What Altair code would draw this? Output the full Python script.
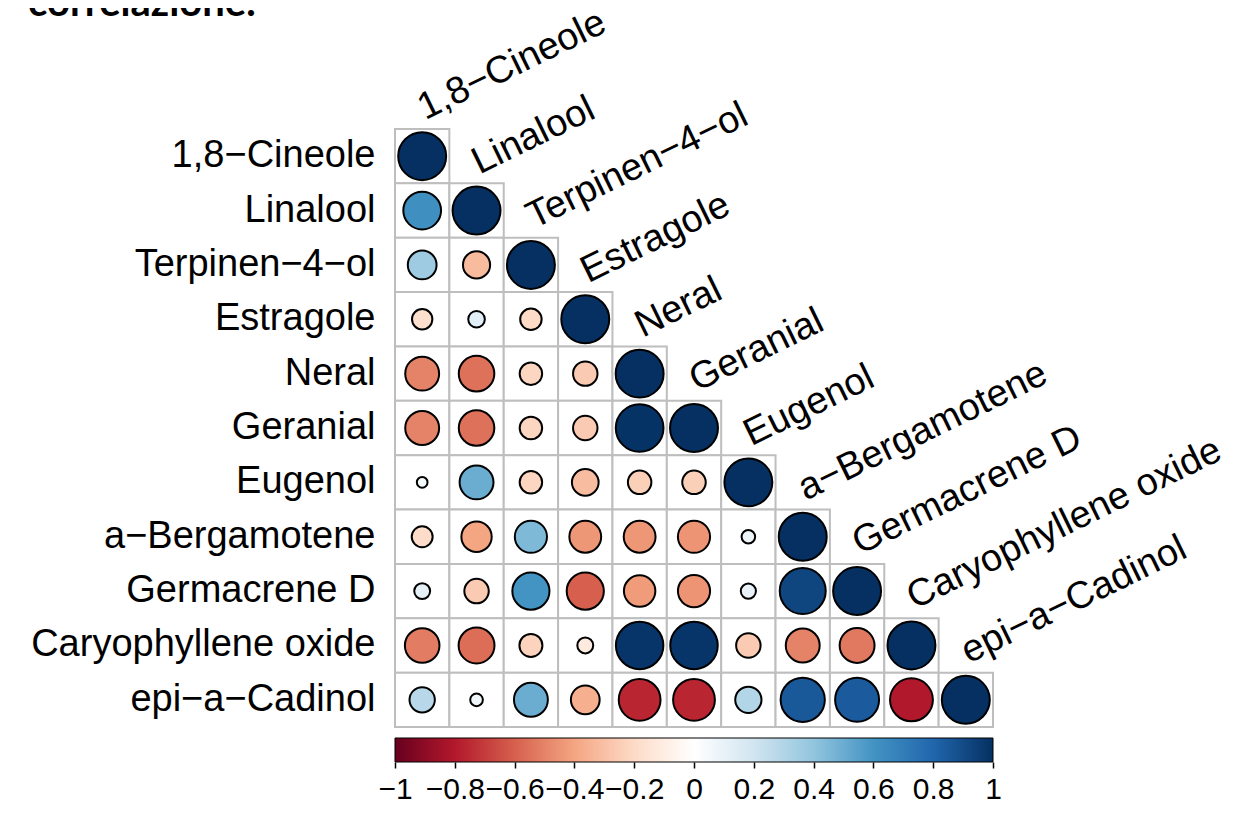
import altair as alt
import pandas as pd

names = ["1,8\u2212Cineole", "Linalool", "Terpinen\u22124\u2212ol", "Estragole", "Neral",
         "Geranial", "Eugenol", "a\u2212Bergamotene", "Germacrene D",
         "Caryophyllene oxide", "epi\u2212a\u2212Cadinol"]

# lower-triangle correlation values, row by row
r_cineole = [1]
r_linalool = [0.62, 1]
r_terpinen = [0.36, -0.32, 1]
r_estragole = [-0.18, 0.12, -0.2, 1]
r_neral = [-0.5, -0.55, -0.22, -0.26, 1]
r_geranial = [-0.5, -0.55, -0.22, -0.26, 0.99, 1]
r_eugenol = [0.05, 0.5, -0.22, -0.31, -0.24, -0.24, 1]
r_bergamotene = [-0.19, -0.4, 0.45, -0.44, -0.44, -0.45, 0.08, 1]
r_germacrene = [0.11, -0.26, 0.6, -0.6, -0.43, -0.45, 0.1, 0.92, 1]
r_caryophyllene = [-0.52, -0.56, -0.23, -0.11, 0.98, 0.98, -0.26, -0.5, -0.53, 1]
r_cadinol = [0.28, 0.07, 0.5, -0.36, -0.76, -0.76, 0.3, 0.85, 0.84, -0.8, 1]

rows = [r_cineole, r_linalool, r_terpinen, r_estragole, r_neral, r_geranial,
        r_eugenol, r_bergamotene, r_germacrene, r_caryophyllene, r_cadinol]

legend_ticks = [-1, -0.8, -0.6, -0.4, -0.2, 0, 0.2, 0.4, 0.6, 0.8, 1]
rdbu = ["#67001F", "#B2182B", "#D6604D", "#F4A582", "#FDDBC7", "#FFFFFF",
        "#D1E5F0", "#92C5DE", "#4393C3", "#2166AC", "#053061"]

title_text = ["correlazione."]

records = []
for i, row in enumerate(rows):
    for j, v in enumerate(row):
        records.append({"row": names[i], "col": names[j], "r": v})
df = pd.DataFrame(records)
diag = pd.DataFrame({"row": names, "col": names})
ticks_df = pd.DataFrame({"v": legend_ticks})

FONT = "Liberation Sans"
W = 598
H = 598

xenc = alt.X("col:N", sort=names, axis=None,
             scale=alt.Scale(type="band", domain=names, paddingInner=0, paddingOuter=0))
yenc = alt.Y("row:N", sort=names, title=None,
             scale=alt.Scale(type="band", domain=names, paddingInner=0, paddingOuter=0),
             axis=alt.Axis(domain=False, ticks=False, grid=False, labelFontSize=38,
                           labelFont=FONT, labelColor="black", labelPadding=20,
                           labelLimit=500))

cells = alt.Chart(df).mark_rect(fill="white", stroke="#BEBEBE", strokeWidth=2).encode(
    x=xenc, y=yenc)

circles = alt.Chart(df).mark_circle(opacity=1, stroke="black", strokeWidth=2).transform_calculate(
    absr="abs(datum.r)"
).encode(
    x=xenc, y=yenc,
    size=alt.Size("absr:Q", scale=alt.Scale(domain=[0, 1], range=[0, 2300]), legend=None),
    color=alt.Color("r:Q",
                    scale=alt.Scale(domain=legend_ticks, range=rdbu, interpolate="rgb"),
                    legend=alt.Legend(orient="none", legendX=0, legendY=609,
                                      direction="horizontal", title=None,
                                      gradientLength=598, gradientThickness=24,
                                      gradientStrokeColor="black", gradientStrokeWidth=1,
                                      values=legend_ticks, labelOpacity=0,
                                      labelFontSize=1)),
)

collabels = alt.Chart(diag).mark_text(
    align="left", baseline="alphabetic", angle=334, fontSize=38, font=FONT,
    color="black", yOffset=-36, xOffset=3
).encode(x=xenc, y=yenc, text="col:N")

title_df = pd.DataFrame({"t": title_text})
title_mark = alt.Chart(title_df).mark_text(
    align="left", baseline="alphabetic", fontSize=40, font="Lato", fontWeight="bold",
    color="black"
).encode(x=alt.value(-367), y=alt.value(-113), text="t:N")

# colour-bar axis: ticks and labels under the gradient
cbar_axis = alt.Chart(ticks_df).mark_point(opacity=0).encode(
    x=alt.X("v:Q", scale=alt.Scale(domain=[-1, 1], nice=False, zero=False),
            axis=alt.Axis(orient="bottom", offset=35, values=legend_ticks, format="~g",
                          labelFontSize=30, labelFont=FONT, labelColor="black",
                          tickSize=6, tickColor="black", tickWidth=1.5, domain=False,
                          grid=False, labelPadding=6, labelFlush=False,
                          labelOverlap=False, title=None)),
    y=alt.value(0),
)

chart = alt.layer(cells, circles, collabels, title_mark, cbar_axis).resolve_scale(
    x="independent"
).properties(
    width=W, height=H,
    autosize=alt.AutoSizeParams(type="none"),
    padding={"left": 387, "top": 121, "right": 232, "bottom": 79},
).configure_view(stroke=None)

chart.save("out.html", embed_options={"renderer": "svg", "actions": False})
